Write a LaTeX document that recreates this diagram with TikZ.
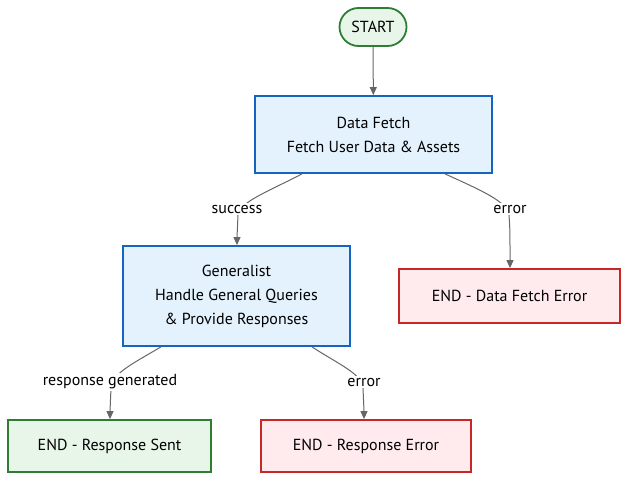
\documentclass[tikz,border=0pt]{standalone}
\usepackage{fontspec}
\setmainfont{PT Sans}
\usetikzlibrary{arrows.meta,calc}
\definecolor{bluefill}{HTML}{E3F2FD}
\definecolor{bluedraw}{HTML}{1565C0}
\definecolor{greenfill}{HTML}{E8F5E9}
\definecolor{greendraw}{HTML}{2E7D32}
\definecolor{redfill}{HTML}{FFEBEE}
\definecolor{reddraw}{HTML}{C62828}
\definecolor{edgegray}{HTML}{666666}
\begin{document}
\begin{tikzpicture}[x=1pt,y=-1pt,
  every node/.style={font=\fontsize{16}{24}\selectfont, text=black, inner sep=0pt},
  bluebox/.style={draw=bluedraw, fill=bluefill, line width=1.8pt, align=center},
  greenbox/.style={draw=greendraw, fill=greenfill, line width=1.8pt, align=center},
  redbox/.style={draw=reddraw, fill=redfill, line width=1.8pt, align=center},
  startbox/.style={draw=greendraw, fill=greenfill, line width=1.8pt, rounded corners=19pt},
  edge/.style={draw=edgegray, line width=1pt, -{Triangle[length=8pt,width=7pt]}},
  lab/.style={fill=white, inner xsep=1pt, inner ysep=2pt}
]
\useasboundingbox (0,0) rectangle (636,487);

\node[startbox, minimum width=67pt, minimum height=38pt] (start) at (373,27) {START};
\node[bluebox, minimum width=237pt, minimum height=77pt] (df) at (373.5,134.5) {Data Fetch\\Fetch User Data \& Assets};
\node[bluebox, minimum width=227pt, minimum height=100pt] (gen) at (236.5,296) {Generalist\\Handle General Queries\\\& Provide Responses};
\node[redbox, minimum width=221pt, minimum height=54pt] (dfe) at (509.5,296) {END - Data Fetch Error};
\node[greenbox, minimum width=203pt, minimum height=52pt] (rs) at (109.5,446) {END - Response Sent};
\node[redbox, minimum width=210pt, minimum height=52pt] (re) at (366,446) {END - Response Error};

\coordinate (s1) at ($(df.south)+(-71.5,0)$);
\coordinate (s2) at ($(df.south)+(71.5,0)$);
\coordinate (s3) at ($(gen.south)+(-75.5,0)$);
\coordinate (s4) at ($(gen.south)+(75.5,0)$);

\draw[edge] (start) -- (df);
\draw[edge] (s1) .. controls (265,193) and (240,202) .. (238,215) .. controls (237,226) .. (gen.north -| 237,0);
\draw[edge] (s2) .. controls (485,192) and (507,202) .. (509,215) .. controls (510,230) .. (dfe.north -| 510,0);
\draw[edge] (s3) .. controls (130,365) and (112,374) .. (111,388) .. controls (110,400) .. (rs.north -| 110,0);
\draw[edge] (s4) .. controls (340,365) and (362,374) .. (363,388) .. controls (364,400) .. (re.north -| 364,0);

\node[lab] (l1) at (237,209) {success};
\node[lab] (l2) at (510,209) {error};
\node[lab] (l3) at (110,382) {response generated};
\node[lab] (l4) at (364,382) {error};
\end{tikzpicture}
\end{document}
